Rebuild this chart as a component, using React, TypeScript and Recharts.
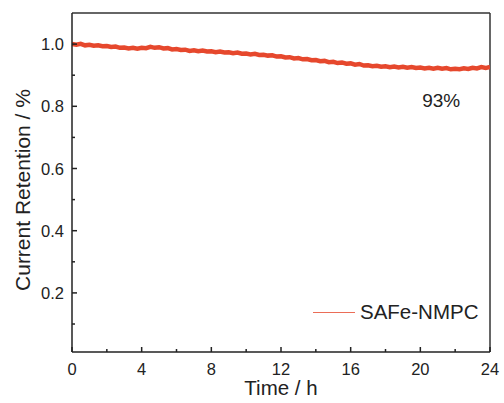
import React from 'react';
import {
  LineChart,
  Line,
  XAxis,
  YAxis,
  Legend,
  ReferenceLine,
  ReferenceDot,
  Label,
} from 'recharts';

// time in hours, sampled every 15 min
const TIME_H = [
  0, 0.25, 0.5, 0.75, 1, 1.25, 1.5, 1.75, 2, 2.25, 2.5, 2.75,
  3, 3.25, 3.5, 3.75, 4, 4.25, 4.5, 4.75, 5, 5.25, 5.5, 5.75,
  6, 6.25, 6.5, 6.75, 7, 7.25, 7.5, 7.75, 8, 8.25, 8.5, 8.75,
  9, 9.25, 9.5, 9.75, 10, 10.25, 10.5, 10.75, 11, 11.25, 11.5, 11.75,
  12, 12.25, 12.5, 12.75, 13, 13.25, 13.5, 13.75, 14, 14.25, 14.5, 14.75,
  15, 15.25, 15.5, 15.75, 16, 16.25, 16.5, 16.75, 17, 17.25, 17.5, 17.75,
  18, 18.25, 18.5, 18.75, 19, 19.25, 19.5, 19.75, 20, 20.25, 20.5, 20.75,
  21, 21.25, 21.5, 21.75, 22, 22.25, 22.5, 22.75, 23, 23.25, 23.5, 23.75, 24,
];

const RETENTION = [
  1.0, 0.998, 1.001, 0.996, 0.998, 0.995, 0.996, 0.993, 0.994, 0.991, 0.992, 0.988,
  0.989, 0.986, 0.988, 0.985, 0.988, 0.987, 0.991, 0.988, 0.99, 0.986, 0.987, 0.983,
  0.984, 0.981, 0.982, 0.978, 0.98, 0.977, 0.979, 0.976, 0.977, 0.974, 0.976, 0.973,
  0.974, 0.971, 0.973, 0.969, 0.97, 0.967, 0.969, 0.965, 0.966, 0.963, 0.964, 0.96,
  0.961, 0.957, 0.958, 0.954, 0.955, 0.951, 0.952, 0.948, 0.949, 0.945, 0.946, 0.942,
  0.943, 0.939, 0.941, 0.937, 0.938, 0.934, 0.936, 0.931, 0.932, 0.929, 0.93, 0.927,
  0.929, 0.926, 0.928, 0.925, 0.927, 0.924, 0.926, 0.923, 0.925, 0.922, 0.924, 0.921,
  0.924, 0.921, 0.923, 0.919, 0.921, 0.919, 0.922, 0.92, 0.924, 0.922, 0.926, 0.923, 0.927,
];

const X_MAJOR = [0, 4, 8, 12, 16, 20, 24];
const X_MINOR = [2, 6, 10, 14, 18, 22];
const Y_MAJOR = [0.2, 0.4, 0.6, 0.8, 1.0];
const Y_MINOR = [0.1, 0.3, 0.5, 0.7, 0.9];

const SERIES_NAME = 'SAFe-NMPC';
const ANNOTATION = '93%';

const RED = '#E6482D';
const INK = '#222';
const FONT = '"Liberation Sans", Arial, sans-serif';

const data = TIME_H.map((t, i) => ({ t, v: RETENTION[i] }));

function XTick(props: any) {
  const { x, y, payload } = props;
  const major = X_MAJOR.includes(payload.value);
  return (
    <g>
      <line x1={x} x2={x} y1={y} y2={y - (major ? 5 : 3)} stroke={INK} strokeWidth={1.5} />
      {major && (
        <text x={x} y={y + 23} textAnchor="middle" fontSize={16.5} fill={INK} fontFamily={FONT}>
          {payload.value}
        </text>
      )}
    </g>
  );
}

function YTick(props: any) {
  const { x, y, payload } = props;
  const major = Y_MAJOR.some((v) => Math.abs(v - payload.value) < 1e-6);
  return (
    <g>
      <line x1={x} x2={x + (major ? 5 : 3)} y1={y} y2={y} stroke={INK} strokeWidth={1.5} />
      {major && (
        <text x={x - 8} y={y + 6} textAnchor="end" fontSize={16.5} fill={INK} fontFamily={FONT}>
          {payload.value.toFixed(1)}
        </text>
      )}
    </g>
  );
}

function LegendBox() {
  return (
    <div style={{ display: 'flex', alignItems: 'center', fontFamily: FONT, fontSize: 20.5, color: INK }}>
      <svg width={42} height={3} style={{ marginRight: 5 }}>
        <line x1={0} x2={42} y1={1.5} y2={1.5} stroke={RED} strokeWidth={1} strokeOpacity={0.8} />
      </svg>
      <span>{SERIES_NAME}</span>
    </div>
  );
}

export default function App() {
  const xTicks = [...X_MAJOR, ...X_MINOR].sort((a, b) => a - b);
  const yTicks = [...Y_MAJOR, ...Y_MINOR].sort((a, b) => a - b);

  return (
    <div style={{ position: 'absolute', left: 0, top: 0, background: '#fff' }}>
      <LineChart
        width={504}
        height={403}
        data={data}
        margin={{ top: 13, right: 14, bottom: 0, left: 0 }}
        style={{ fontFamily: FONT }}
      >
        <XAxis
          dataKey="t"
          type="number"
          domain={[0, 24]}
          ticks={xTicks}
          interval={0}
          height={51}
          tickSize={0}
          tickMargin={0}
          tickLine={false}
          tick={<XTick />}
          axisLine={{ stroke: INK, strokeWidth: 1.5 }}
          allowDataOverflow
        >
          <Label
            content={() => (
              <text x={281} y={395} textAnchor="middle" fontSize={20.5} fill={INK} fontFamily={FONT}>
                Time / h
              </text>
            )}
          />
        </XAxis>
        <YAxis
          type="number"
          domain={[0.01, 1.1]}
          ticks={yTicks}
          interval={0}
          width={72}
          tickSize={0}
          tickMargin={0}
          tickLine={false}
          tick={<YTick />}
          axisLine={{ stroke: INK, strokeWidth: 1.5 }}
          allowDataOverflow
        >
          <Label
            content={() => (
              <text
                x={30}
                y={190}
                transform="rotate(-90 30 190)"
                textAnchor="middle"
                fontSize={21}
                fill={INK}
                fontFamily={FONT}
              >
                Current Retention / %
              </text>
            )}
          />
        </YAxis>
        <ReferenceLine y={1.1} stroke="#333" strokeWidth={1.5} />
        <ReferenceLine x={24} stroke="#333" strokeWidth={1.5} />
        <ReferenceDot
          x={21.2}
          y={0.82}
          r={0}
          stroke="none"
          fill="none"
          label={{ value: ANNOTATION, position: 'center', fontSize: 19, fill: INK, fontFamily: FONT }}
        />
        <Legend
          layout="horizontal"
          verticalAlign="middle"
          align="center"
          content={() => <LegendBox />}
          wrapperStyle={{ left: 313, top: 300, width: 'auto' }}
        />
        <Line
          type="linear"
          dataKey="v"
          name={SERIES_NAME}
          stroke={RED}
          strokeWidth={4.5}
          dot={false}
          isAnimationActive={false}
        />
      </LineChart>
    </div>
  );
}
